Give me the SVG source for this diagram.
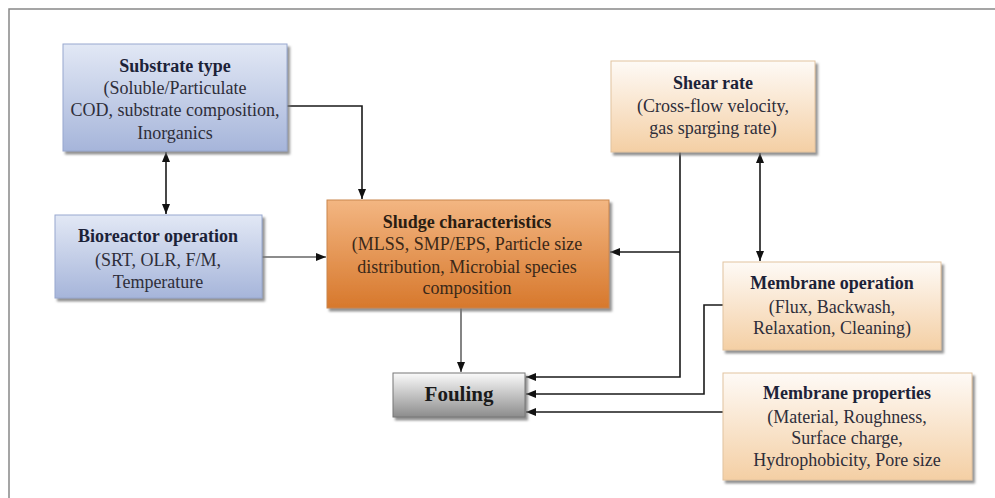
<svg xmlns="http://www.w3.org/2000/svg" width="995" height="498" viewBox="0 0 995 498">
<style>
text{font-family:"Liberation Serif","Times New Roman",serif;text-anchor:middle;font-size:18px;fill:#2e2e3a}
.t{font-weight:bold;fill:#1c2238}
.c{fill:none;stroke:#1a1a1a;stroke-width:1.6}
.g{fill:none;stroke:#666;stroke-width:1.6}
.box{filter:url(#sh)}
</style>
<defs>
<linearGradient id="blue" x1="0" y1="0" x2="0" y2="1"><stop offset="0" stop-color="#e2e8f5"/><stop offset="1" stop-color="#a6b5da"/></linearGradient>
<linearGradient id="orange" x1="0" y1="0" x2="0" y2="1"><stop offset="0" stop-color="#f3b682"/><stop offset="1" stop-color="#d7782c"/></linearGradient>
<linearGradient id="peach" x1="0" y1="0" x2="0" y2="1"><stop offset="0" stop-color="#fefaf6"/><stop offset="1" stop-color="#f4cfa4"/></linearGradient>
<linearGradient id="gray" x1="0" y1="0" x2="0" y2="1"><stop offset="0" stop-color="#fafafa"/><stop offset="1" stop-color="#8c8c8c"/></linearGradient>
<filter id="sh" x="-10%" y="-10%" width="125%" height="130%"><feDropShadow dx="2.5" dy="3" stdDeviation="1.2" flood-color="#777" flood-opacity="0.8"/></filter>
<marker id="ah" viewBox="0 0 10 10" refX="10" refY="5" markerWidth="10" markerHeight="10" markerUnits="userSpaceOnUse" orient="auto-start-reverse"><path d="M0,1 L10,5 L0,9 Z" fill="#111"/></marker>
</defs>
<rect x="0" y="0" width="995" height="498" fill="#fff"/>
<path d="M9,498 V9 H995" fill="none" stroke="#888" stroke-width="1.5"/>

<g id="connectors">
<path class="c" d="M166,152 V214" marker-start="url(#ah)" marker-end="url(#ah)"/>
<path class="c" d="M287,106 H362 V199" marker-end="url(#ah)"/>
<path class="g" d="M262,257 H326" marker-end="url(#ah)"/>
<path class="g" d="M461,308 V372" marker-end="url(#ah)"/>
<path class="c" d="M680,152 V377 H526" marker-end="url(#ah)"/>
<path class="c" d="M680,252 H610" marker-end="url(#ah)"/>
<path class="c" d="M760,153 V261" marker-start="url(#ah)" marker-end="url(#ah)"/>
<path class="c" d="M723,305 H704 V394 H526" marker-end="url(#ah)"/>
<path class="c" d="M723,412 H526" marker-end="url(#ah)"/>
</g>

<g id="substrate">
<rect class="box" x="63" y="44" width="224" height="107" fill="url(#blue)" stroke="#98a8cf" stroke-width="1"/>
<text class="t" x="175" y="72">Substrate type</text>
<text x="175" y="94">(Soluble/Particulate</text>
<text x="175" y="116">COD, substrate composition,</text>
<text x="175" y="139">Inorganics</text>
</g>

<g id="bioreactor">
<rect class="box" x="55" y="215" width="207" height="83" fill="url(#blue)" stroke="#98a8cf" stroke-width="1"/>
<text class="t" x="158" y="242">Bioreactor operation</text>
<text x="158" y="266">(SRT, OLR, F/M,</text>
<text x="158" y="288">Temperature</text>
</g>

<g id="sludge">
<rect class="box" x="327" y="200" width="282" height="108" fill="url(#orange)" stroke="#c9864d" stroke-width="1"/>
<text class="t" x="467" y="228" style="fill:#2a1d12">Sludge characteristics</text>
<text x="467" y="250" style="fill:#3a2818">(MLSS, SMP/EPS, Particle size</text>
<text x="467" y="273" style="fill:#3a2818">distribution, Microbial species</text>
<text x="467" y="294" style="fill:#3a2818">composition</text>
</g>

<g id="fouling">
<rect class="box" x="393" y="373" width="132" height="44" fill="url(#gray)" stroke="#777" stroke-width="1"/>
<text class="t" x="459" y="401" style="font-size:21px;fill:#1a1a1a">Fouling</text>
</g>

<g id="shear">
<rect class="box" x="611" y="61" width="204" height="91" fill="url(#peach)" stroke="#e2c39f" stroke-width="1"/>
<text class="t" x="713" y="89">Shear rate</text>
<text x="713" y="112">(Cross-flow velocity,</text>
<text x="713" y="134">gas sparging rate)</text>
</g>

<g id="membrane-operation">
<rect class="box" x="723" y="262" width="218" height="88" fill="url(#peach)" stroke="#e2c39f" stroke-width="1"/>
<text class="t" x="832" y="289">Membrane operation</text>
<text x="832" y="313">(Flux, Backwash,</text>
<text x="832" y="334">Relaxation, Cleaning)</text>
</g>

<g id="membrane-properties">
<rect class="box" x="723" y="373" width="249" height="107" fill="url(#peach)" stroke="#e2c39f" stroke-width="1"/>
<text class="t" x="847" y="399">Membrane properties</text>
<text x="847" y="423">(Material, Roughness,</text>
<text x="847" y="444">Surface charge,</text>
<text x="847" y="466">Hydrophobicity, Pore size</text>
</g>
</svg>
